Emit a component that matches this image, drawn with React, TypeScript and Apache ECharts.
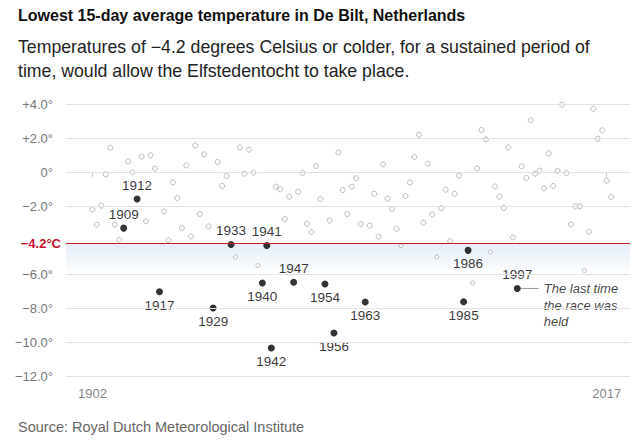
import React, { useEffect, useRef } from "react";
import * as echarts from "echarts";

// Non-race years (hollow circles)
const otherYears = [
  1902, 1903, 1904, 1905, 1906, 1907, 1908, 1910, 1911, 1913, 1914, 1915, 1916, 1918, 1919,
  1920, 1921, 1922, 1923, 1924, 1925, 1926, 1927, 1928, 1930, 1931, 1932, 1934, 1935, 1936,
  1937, 1938, 1939, 1943, 1944, 1945, 1946, 1948, 1949, 1950, 1951, 1952, 1953, 1955, 1957,
  1958, 1959, 1960, 1961, 1962, 1964, 1965, 1966, 1967, 1968, 1969, 1970, 1971, 1972, 1973,
  1974, 1975, 1976, 1977, 1978, 1979, 1980, 1981, 1982, 1983, 1984, 1987, 1988, 1989, 1990,
  1991, 1992, 1993, 1994, 1995, 1996, 1998, 1999, 2000, 2001, 2002, 2003, 2004, 2005, 2006,
  2007, 2008, 2009, 2010, 2011, 2012, 2013, 2014, 2015, 2016, 2017, 2018,
];
const otherTemps = [
  -2.2, -3.1, -1.98, -0.14, 1.43, -3.1, -3.98, 0.62, -0.02, 0.9, -2.9, 0.98, 0.19, -2.32, -4.02,
  -0.61, -1.53, -3.3, 0.39, -3.79, 1.57, -2.47, 1.04, -3.2, 0.59, -0.82, -0.24, -5.0, 1.45, -0.1,
  1.31, -0.04, -5.5, -0.86, -1.02, -2.77, -1.45, -1.16, -0.06, -3.04, -3.53, 0.35, -1.59, -2.85, 1.15,
  -1.06, -2.47, -0.86, -0.37, -3.06, -3.16, -1.28, -3.8, 0.45, -1.57, -2.18, -3.34, -4.34, -1.41, -0.61,
  0.88, 2.19, -2.98, 0.49, -2.49, -5.0, -2.12, -1.04, -4.06, -1.28, -0.2, -6.53, 0.21, 2.47, 1.92,
  -4.7, -0.85, -1.45, -2.12, 1.45, -3.85, 0.33, -0.35, 3.04, -0.1, 0.08, -0.96, 1.1, -0.82, 0.06,
  3.96, -0.06, -3.08, -2.02, -2.02, -5.79, -3.51, 3.72, 1.96, 2.45, -0.51, -1.47,
];

// Years the Elfstedentocht was held (filled dots)
const raceYears = [1909, 1912, 1917, 1929, 1933, 1940, 1941, 1942, 1947, 1954, 1956, 1963, 1985, 1986, 1997];
const raceTemps = [-3.3, -1.59, -7.04, -8.0, -4.26, -6.53, -4.32, -10.35, -6.49, -6.59, -9.47, -7.65, -7.63, -4.61, -6.85];

const threshold = -4.2;
const thresholdLabel = "−4.2°C";
const yTickValues = [4, 2, 0, -2, -6, -8, -10, -12];
const xTickYears = [1902, 2017];
const lastRaceYear = 1997;
const annotationText = "The last time\nthe race was\nheld";

// style-only config
const labelAboveYears = new Set([1909, 1912, 1933, 1941, 1947, 1997]);
const FONT = "'Liberation Sans', Arial, sans-serif";

function fmtY(v: number) {
  if (v === 0) return "0°";
  return (v > 0 ? "+" : "−") + Math.abs(v).toFixed(1) + "°";
}

export default function App() {
  const ref = useRef<HTMLDivElement>(null);

  useEffect(() => {
    if (!ref.current) return;
    const chart = echarts.init(ref.current, undefined, { renderer: "svg" });

    const lastTemp = raceTemps[raceYears.indexOf(lastRaceYear)];

    const option: any = {
      animation: false,
      backgroundColor: "#ffffff",
      textStyle: { fontFamily: FONT },
      title: [
        {
          text: "Lowest 15-day average temperature in De Bilt, Netherlands",
          left: 18,
          top: 7,
          padding: 0,
          textStyle: { fontFamily: FONT, fontSize: 16, fontWeight: "bold", color: "#111" },
        },
        {
          text:
            "Temperatures of −4.2 degrees Celsius or colder, for a sustained period of\ntime, would allow the Elfstedentocht to take place.",
          left: 18,
          top: 35,
          padding: 0,
          textStyle: { fontFamily: FONT, fontSize: 17.7, fontWeight: "normal", color: "#222", lineHeight: 24 },
        },
      ],
      graphic: [
        {
          type: "text",
          left: 18,
          top: 419,
          style: { text: "Source: Royal Dutch Meteorological Institute", fill: "#666", font: `14.5px ${FONT}` },
        },
      ],
      grid: { left: 66, right: 10, top: 104, bottom: 70 },
      xAxis: {
        type: "value",
        min: 1896.1,
        max: 2022.2,
        offset: 5,
        axisLine: { show: false },
        splitLine: { show: false },
        axisTick: { show: true, customValues: xTickYears, length: 5, lineStyle: { color: "#ccc" } },
        axisLabel: {
          customValues: xTickYears,
          color: "#888",
          fontSize: 13,
          margin: 6,
          fontFamily: FONT,
          formatter: (v: number) => String(v),
        },
      },
      yAxis: {
        type: "value",
        min: -12,
        max: 4,
        interval: 2,
        axisLine: { show: false },
        axisTick: { show: false },
        splitLine: { show: false },
        axisLabel: {
          customValues: yTickValues,
          color: "#777",
          fontSize: 13,
          margin: 13,
          fontFamily: FONT,
          formatter: fmtY,
        },
      },
      series: [
        {
          type: "line",
          data: [],
          z: 0,
          silent: true,
          markArea: {
            silent: true,
            itemStyle: {
              color: new echarts.graphic.LinearGradient(0, 0, 0, 1, [
                { offset: 0, color: "#e3edf8" },
                { offset: 1, color: "#ffffff" },
              ]),
            },
            data: [[{ yAxis: threshold }, { yAxis: -6 }]],
          },
        },
        {
          type: "line",
          data: [],
          z: 1,
          silent: true,
          markLine: {
            silent: true,
            symbol: ["none", "none"],
            label: { show: false },
            lineStyle: { color: "#e2e2e2", width: 1, type: "solid" },
            data: yTickValues.map((v) => ({ yAxis: v })),
          },
        },
        {
          type: "line",
          data: [],
          z: 2,
          silent: true,
          markLine: {
            silent: true,
            symbol: ["none", "none"],
            lineStyle: { color: "#d01c1c", width: 1, type: "solid" },
            label: {
              show: true,
              position: "start",
              distance: 5,
              formatter: thresholdLabel,
              color: "#c8102e",
              fontWeight: "bold",
              fontSize: 13,
              fontFamily: FONT,
            },
            data: [{ yAxis: threshold }],
          },
        },
        {
          type: "scatter",
          z: 3,
          symbol: "circle",
          data: otherYears.map((y, i) => ({
            value: [y, otherTemps[i]],
            symbolSize: otherTemps[i] < threshold ? 4 : 5,
          })),
          itemStyle: { color: "#ffffff", borderColor: "#aaaaaa", borderWidth: 1 },
        },
        {
          type: "line",
          z: 3,
          symbol: "none",
          silent: true,
          lineStyle: { color: "#999", width: 1 },
          data: [
            [lastRaceYear + 0.9, lastTemp],
            [lastRaceYear + 4.8, lastTemp],
          ],
        },
        {
          type: "scatter",
          z: 3,
          symbolSize: 0,
          silent: true,
          data: [[lastRaceYear + 4.8, lastTemp]],
          label: {
            show: true,
            position: "right",
            distance: 5,
            verticalAlign: "top",
            offset: [0, -8],
            formatter: annotationText,
            fontStyle: "italic",
            fontSize: 13,
            lineHeight: 16.5,
            color: "#111",
            fontFamily: FONT,
          },
        },
        {
          type: "scatter",
          z: 4,
          symbol: "circle",
          symbolSize: 7,
          itemStyle: { color: "#000" },
          data: raceYears.map((y, i) => ({
            value: [y, raceTemps[i]],
            label: {
              show: true,
              position: labelAboveYears.has(y) ? "top" : "bottom",
              distance: 3,
              formatter: String(y),
              fontSize: 13.5,
              color: "#000",
              fontFamily: FONT,
            },
          })),
        },
      ],
    };

    chart.setOption(option);
    return () => chart.dispose();
  }, []);

  return (
    <div
      ref={ref}
      style={{ position: "absolute", left: 0, top: 0, width: 640, height: 446, background: "#fff" }}
    />
  );
}
